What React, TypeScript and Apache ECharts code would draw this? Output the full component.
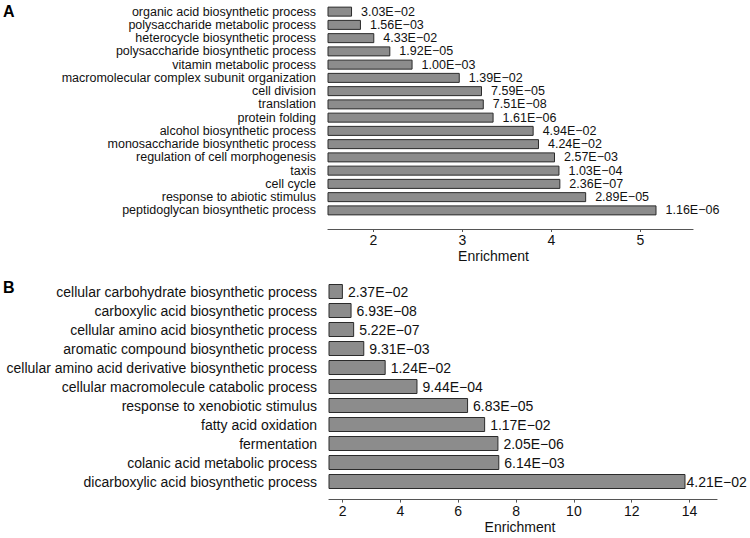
import React, { useEffect, useRef } from "react";
import * as echarts from "echarts";

const catsA = [
  "organic acid biosynthetic process",
  "polysaccharide metabolic process",
  "heterocycle biosynthetic process",
  "polysaccharide biosynthetic process",
  "vitamin metabolic process",
  "macromolecular complex subunit organization",
  "cell division",
  "translation",
  "protein folding",
  "alcohol biosynthetic process",
  "monosaccharide biosynthetic process",
  "regulation of cell morphogenesis",
  "taxis",
  "cell cycle",
  "response to abiotic stimulus",
  "peptidoglycan biosynthetic process",
];
const valsA = [1.76, 1.86, 2.01, 2.19, 2.44, 2.97, 3.22, 3.24, 3.35, 3.8, 3.86, 4.04, 4.09, 4.1, 4.39, 5.18];
const pvalsA = [
  "3.03E−02", "1.56E−03", "4.33E−02", "1.92E−05", "1.00E−03", "1.39E−02", "7.59E−05", "7.51E−08",
  "1.61E−06", "4.94E−02", "4.24E−02", "2.57E−03", "1.03E−04", "2.36E−07", "2.89E−05", "1.16E−06",
];
const ticksA = [2, 3, 4, 5];

const catsB = [
  "cellular carbohydrate biosynthetic process",
  "carboxylic acid biosynthetic process",
  "cellular amino acid biosynthetic process",
  "aromatic compound biosynthetic process",
  "cellular amino acid derivative biosynthetic process",
  "cellular macromolecule catabolic process",
  "response to xenobiotic stimulus",
  "fatty acid oxidation",
  "fermentation",
  "colanic acid metabolic process",
  "dicarboxylic acid biosynthetic process",
];
const valsB = [2.01, 2.31, 2.4, 2.75, 3.49, 4.59, 6.34, 6.93, 7.39, 7.42, 13.86];
const pvalsB = [
  "2.37E−02", "6.93E−08", "5.22E−07", "9.31E−03", "1.24E−02", "9.44E−04",
  "6.83E−05", "1.17E−02", "2.05E−06", "6.14E−03", "4.21E−02",
];
const ticksB = [2, 4, 6, 8, 10, 12, 14];

const FONT = "Liberation Sans, Arial, sans-serif";
const TXT = "#111";

export default function App() {
  const ref = useRef<HTMLDivElement>(null);
  useEffect(() => {
    if (!ref.current) return;
    const chart = echarts.init(ref.current, undefined, { renderer: "svg" });
    const xAxisCommon = (min: number, max: number, ticks: number[], offset: number, nameGap: number, namePad: number[]) => ({
      type: "value",
      min,
      max,
      position: "bottom",
      offset,
      splitLine: { show: false },
      axisLine: { show: true, lineStyle: { color: "#555", width: 1.2 } },
      axisTick: {
        show: true,
        length: 3,
        lineStyle: { color: "#555" },
        customValues: ticks,
      },
      axisLabel: {
        customValues: ticks,
        color: TXT,
        fontSize: 14,
        fontFamily: FONT,
        margin: 4,
      },
      name: "Enrichment",
      nameLocation: "middle",
      nameGap,
      nameTextStyle: { color: TXT, fontSize: 14, fontFamily: FONT, padding: namePad },
    });
    const yAxisCommon = (cats: string[], fs: number) => ({
      type: "category",
      data: cats,
      inverse: true,
      axisLine: { show: false },
      axisTick: { show: false },
      axisLabel: { color: TXT, fontSize: fs, lineHeight: fs, fontFamily: FONT, margin: 12, interval: 0 },
    });
    const barStyle = { color: "#8c8c8c", borderColor: "#2b2b2b", borderWidth: 1 };
    chart.setOption({
      animation: false,
      grid: [
        { left: 328, right: 57, top: 5, height: 212 },
        { left: 329, right: 33, top: 282, height: 209 },
      ],
      xAxis: [
        { ...xAxisCommon(1.49, 5.59, ticksA, 12, 20, [0, 34, 0, 0]), gridIndex: 0 },
        { ...xAxisCommon(1.53, 14.95, ticksB, 8.6, 20, [0, 6, 0, 0]), gridIndex: 1 },
      ],
      yAxis: [
        { ...yAxisCommon(catsA, 12.5), gridIndex: 0 },
        { ...yAxisCommon(catsB, 14), gridIndex: 1 },
      ],
      series: [
        {
          type: "bar",
          xAxisIndex: 0,
          yAxisIndex: 0,
          data: valsA,
          barWidth: 10,
          itemStyle: barStyle,
          label: {
            show: true,
            position: "right",
            distance: 9,
            color: TXT,
            fontSize: 12.5,
            lineHeight: 12.5,
            fontFamily: FONT,
            formatter: (p: any) => pvalsA[p.dataIndex],
          },
        },
        {
          type: "bar",
          xAxisIndex: 1,
          yAxisIndex: 1,
          data: valsB.map((v, i) =>
            i === valsB.length - 1 ? { value: v, label: { distance: 1 } } : v
          ),
          barWidth: 15,
          itemStyle: barStyle,
          label: {
            show: true,
            position: "right",
            distance: 5,
            color: TXT,
            fontSize: 14,
            fontFamily: FONT,
            formatter: (p: any) => pvalsB[p.dataIndex],
          },
        },
      ],
      graphic: [
        { type: "text", left: 3, top: 3, style: { text: "A", fontSize: 16, fontWeight: "bold", fontFamily: FONT, fill: "#000" } },
        { type: "text", left: 3, top: 279, style: { text: "B", fontSize: 16, fontWeight: "bold", fontFamily: FONT, fill: "#000" } },
      ],
    });
    return () => chart.dispose();
  }, []);
  return <div ref={ref} style={{ width: 750, height: 538, position: "absolute", left: 0, top: 0 }} />;
}
